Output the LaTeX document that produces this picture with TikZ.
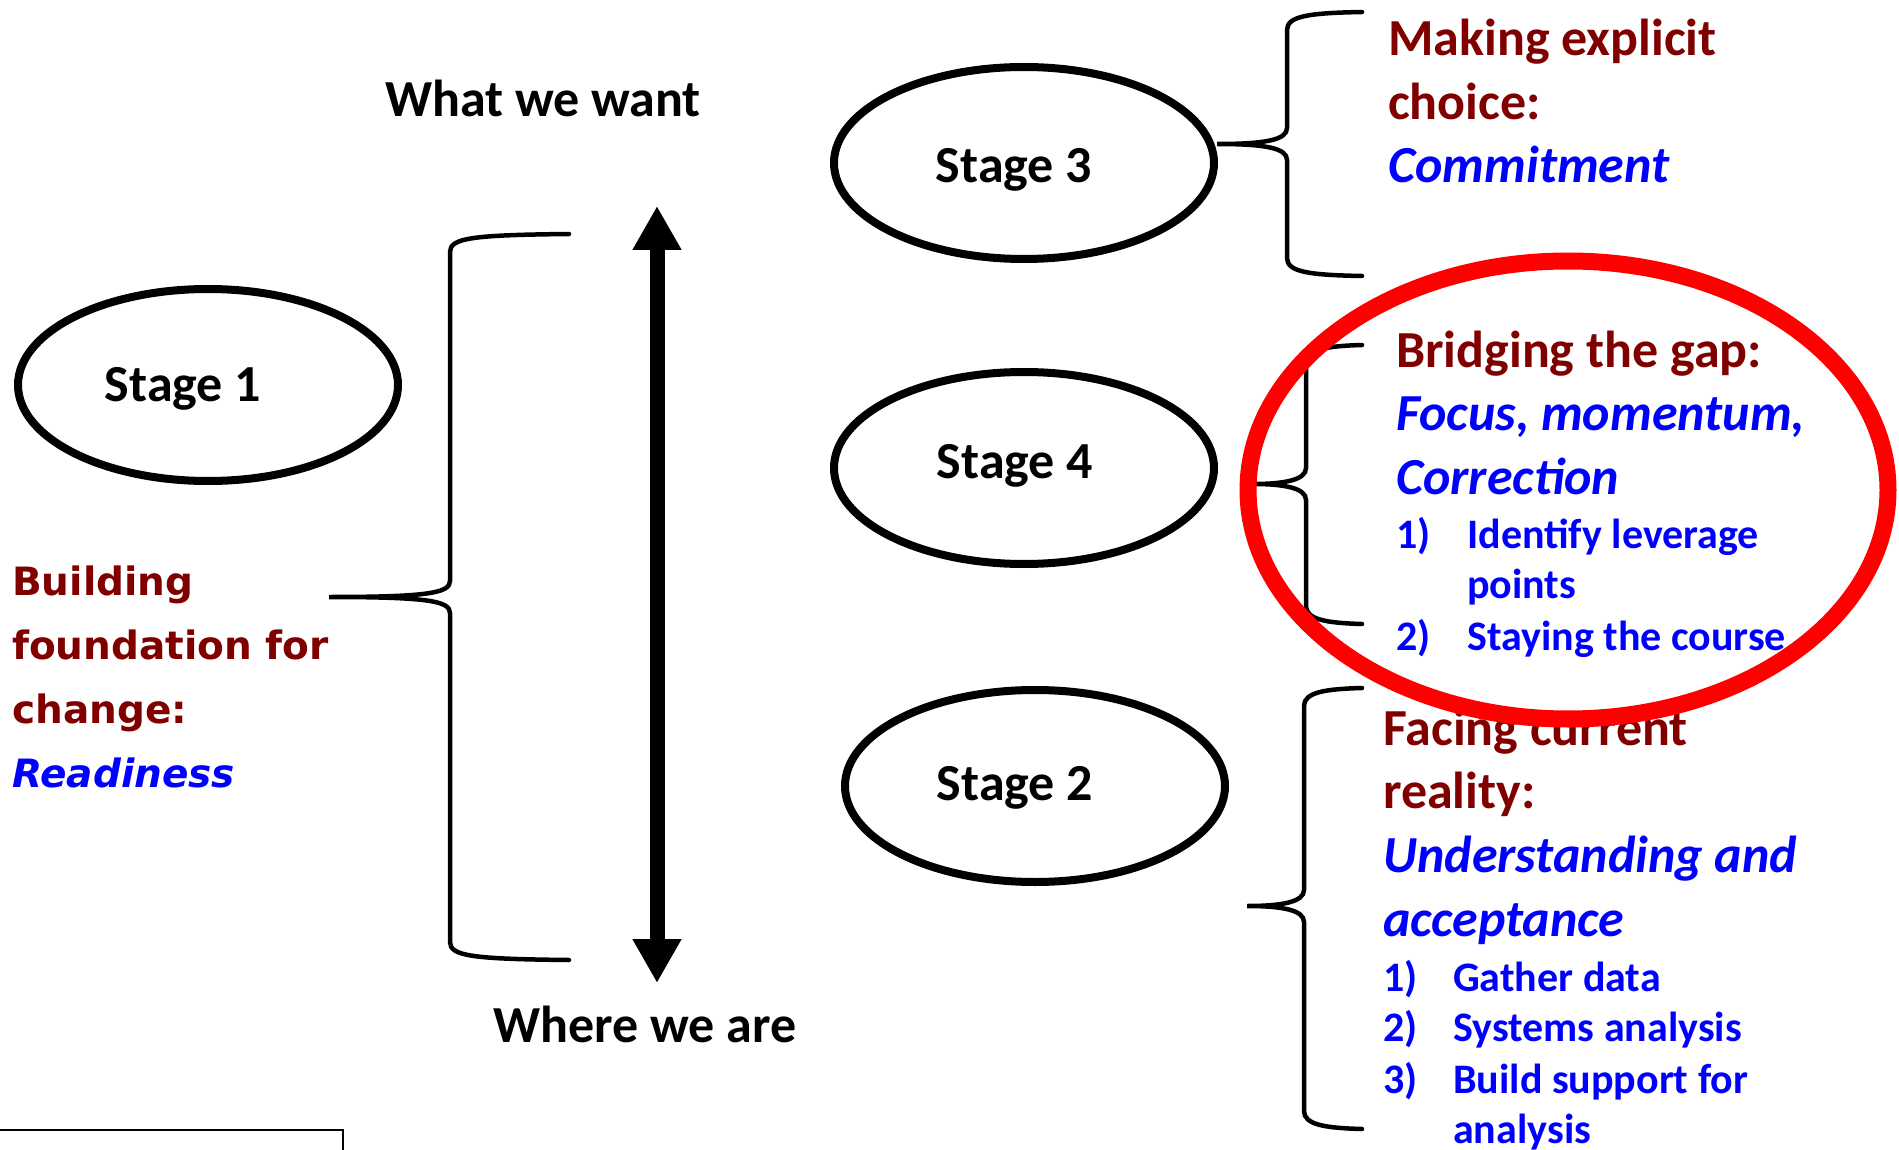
\documentclass[tikz,border=0pt]{standalone}
\usepackage{fontspec}
\setmainfont{Carlito}
\newfontfamily\verd{DejaVu Sans}
\usetikzlibrary{shapes.geometric,arrows.meta}
\definecolor{darkredtxt}{RGB}{128,0,0}
\definecolor{bluetxt}{RGB}{0,0,255}
\definecolor{ringred}{RGB}{255,0,0}
% curly bracket: #1 end x, #2 vertical x, #3 top y, #4 tip y, #5 bottom y, #6 tip x
\newcommand\bracepath[6]{(#1,#3) .. controls (#2+22,#3+1) and (#2,#3+4) .. (#2,#3+18)
  -- (#2,#4-16) .. controls (#2,#4-4) and (#2-22,#4) .. (#6,#4)
  .. controls (#2-22,#4) and (#2,#4+4) .. (#2,#4+16)
  -- (#2,#5-18) .. controls (#2,#5-4) and (#2+22,#5-1) .. (#1,#5)}
\begin{document}
\begin{tikzpicture}[x=1pt,y=-1pt,
  stagebox/.style={ellipse,draw=black,line width=8pt,minimum width=380pt,minimum height=192pt,inner sep=0pt,fill=white},
  stagetext/.style={anchor=base,inner sep=0pt,font=\fontsize{52}{62}\selectfont\bfseries},
  blocktext/.style={anchor=base west,inner sep=0pt,align=left},
  bracebar/.style={line width=4.5pt,draw=black,line cap=round},
]
\useasboundingbox[fill=white] (0,0) rectangle (1899,1150);

% stage ellipses
\node[stagebox] (s1) at (208,385) {};
\node[stagebox] (s3) at (1024,163) {};
\node[stagebox] (s4) at (1024,468) {};
\node[stagebox] (s2) at (1035,786) {};
\node[stagetext] (s1t) at (183,402) {Stage 1};
\node[stagetext] (s3t) at (1014,183) {Stage 3};
\node[stagetext] (s4t) at (1015,478) {Stage 4};
\node[stagetext] (s2t) at (1015,800) {Stage 2};

% axis labels and arrow
\node[stagetext] (want) at (543,117) {What we want};
\node[stagetext] (are) at (645,1042) {Where we are};
\coordinate (atop) at (657,206);
\coordinate (abot) at (657,983);
\draw[line width=15pt,{Triangle[width=46pt,length=44pt]}-{Triangle[width=46pt,length=44pt]}] (atop) -- (abot);

% stage 1 text block
\node[blocktext] (b1) at (12,595) {\vtop{\verd\fontsize{39}{64}\selectfont\bfseries
  \hbox{\color{darkredtxt}Building}
  \hbox{\color{darkredtxt}foundation for}
  \hbox{\color{darkredtxt}change:}
  \hbox{\color{bluetxt}\itshape Readiness}}};

% stage 3 text block
\node[blocktext] (b3) at (1388,56) {\vtop{\fontsize{52}{63.5}\selectfont\bfseries
  \hbox{\color{darkredtxt}Making explicit}
  \hbox{\color{darkredtxt}choice:}
  \hbox{\color{bluetxt}\itshape Commitment}}};

% stage 4 text block
\node[blocktext] (b4) at (1396,367) {\vtop{\fontsize{52}{63.5}\selectfont\bfseries
  \hbox{\color{darkredtxt}Bridging the gap:}
  \hbox{\color{bluetxt}\itshape Focus, momentum,}
  \hbox{\color{bluetxt}\itshape Correction}
  \fontsize{42}{55}\selectfont\bfseries
  \hbox{\color{bluetxt}\makebox[71pt][l]{1)}Identify leverage}
  \baselineskip=50pt
  \hbox{\color{bluetxt}\hspace*{71pt}points}
  \baselineskip=52pt
  \hbox{\color{bluetxt}\makebox[71pt][l]{2)}Staying the course}}};

% stage 2 text block
\node[blocktext] (b2) at (1383,745) {\vtop{\fontsize{52}{63.7}\selectfont\bfseries
  \hbox{\color{darkredtxt}Facing current}
  \hbox{\color{darkredtxt}reality:}
  \hbox{\color{bluetxt}\itshape Understanding and}
  \hbox{\color{bluetxt}\itshape acceptance}
  \fontsize{42}{55}\selectfont\bfseries
  \hbox{\color{bluetxt}\makebox[70pt][l]{1)}Gather data}
  \baselineskip=50.5pt
  \hbox{\color{bluetxt}\makebox[70pt][l]{2)}Systems analysis}
  \baselineskip=51.5pt
  \hbox{\color{bluetxt}\makebox[70pt][l]{3)}Build support for}
  \baselineskip=50.5pt
  \hbox{\color{bluetxt}\hspace*{70pt}analysis}}};

% brackets
\draw[bracebar] \bracepath{569}{450}{234}{597}{960}{329};
\draw[bracebar] \bracepath{1362}{1287}{12}{144}{276}{1217};
\draw[bracebar] \bracepath{1362}{1306}{345}{484}{624}{1253};
\draw[bracebar] \bracepath{1362}{1304}{688}{906}{1129}{1247};

% red highlight ring
\node[ellipse,draw=ringred,line width=17pt,minimum width=640pt,minimum height=458pt,inner sep=0pt] (ring) at (1568,490) {};

% partial frame at bottom left
\coordinate (fa) at (-5,1130);
\coordinate (fb) at (343,1130);
\coordinate (fc) at (343,1155);
\draw[line width=2.5pt] (fa) -- (fb) -- (fc);
\end{tikzpicture}
\end{document}
